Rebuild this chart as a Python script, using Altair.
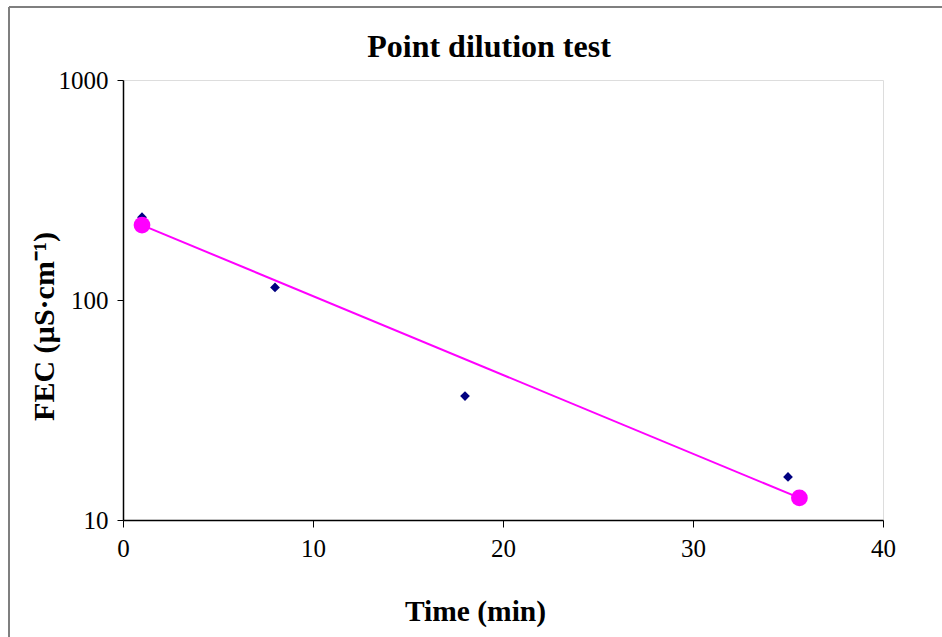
import altair as alt
import pandas as pd

# measured data (diamonds)
time_min = [1, 8, 18, 35]
fec = [238, 114, 36.6, 15.7]

# fit line end points (magenta circles)
fit_time = [1, 35.6]
fit_fec = [219, 12.6]

x_ticks = [0, 10, 20, 30, 40]
y_ticks = [10, 100, 1000]

TITLE = "Point dilution test"
FONT = "Liberation Serif"

meas = pd.DataFrame({"t": time_min, "fec": fec})
fit = pd.DataFrame({"t": fit_time, "fec": fit_fec})

xs = alt.Scale(domain=[0, 40], nice=False, zero=False)
ys = alt.Scale(type="log", domain=[10, 1000], nice=False)

x_axis = alt.Axis(values=x_ticks, format="d", title="Time (min)", grid=False,
                  domainColor="black", domainWidth=1.5, tickColor="black", tickSize=7,
                  labelFont=FONT, labelFontSize=25, labelColor="black", labelPadding=9,
                  labelFlush=False,
                  titleFont=FONT, titleFontSize=29.5, titleFontWeight="bold",
                  titleColor="black", titleX=352, titleY=100, titleBaseline="alphabetic",
                  titleAnchor="start", titleAlign="center")
y_axis = alt.Axis(values=y_ticks, format="d", title="FEC (µS·cm⁻¹)", grid=False,
                  domainColor="black", domainWidth=1.5, tickColor="black", tickSize=6,
                  labelFont=FONT, labelFontSize=25, labelColor="black", labelPadding=9,
                  labelFlush=False,
                  titleFont=FONT, titleFontSize=30, titleFontWeight="bold",
                  titleColor="black", titleX=-70, titleY=246, titleAngle=-90,
                  titleBaseline="alphabetic", titleAlign="center", titleAnchor="start")

points = alt.Chart(meas).mark_point(shape="diamond", filled=True, color="#000080",
                                    size=95, opacity=1).encode(
    x=alt.X("t:Q", scale=xs, axis=x_axis),
    y=alt.Y("fec:Q", scale=ys, axis=y_axis),
)

line = alt.Chart(fit).mark_line(color="#FF00FF", strokeWidth=2).encode(
    x=alt.X("t:Q", scale=xs),
    y=alt.Y("fec:Q", scale=ys),
)

circles = alt.Chart(fit).mark_circle(color="#FF00FF", size=280, opacity=1).encode(
    x=alt.X("t:Q", scale=xs),
    y=alt.Y("fec:Q", scale=ys),
)

frame_v = alt.Chart(fit).mark_rule(color="#7f7f7f", strokeWidth=2, clip=False).encode(
    x=alt.value(-114), y=alt.value(-73), y2=alt.value(600))
frame_h = alt.Chart(fit).mark_rule(color="#7f7f7f", strokeWidth=2, clip=False).encode(
    x=alt.value(-114), x2=alt.value(830), y=alt.value(-73))

title = alt.Chart(pd.DataFrame({"title": [TITLE]})).mark_text(
    font=FONT, fontSize=32, fontWeight="bold", color="black", align="center",
    baseline="alphabetic", clip=False).encode(
    text="title:N", x=alt.value(366), y=alt.value(-23))

chart = alt.layer(frame_v, frame_h, line, points, circles, title).properties(
    width=760, height=440,
    autosize=alt.AutoSizeParams(type="none"),
    padding={"left": 123, "top": 80, "right": 59, "bottom": 117},
).configure_view(stroke="#808080", strokeWidth=2.5).configure(background="white")

chart.save("out.html", embed_options={"renderer": "svg", "actions": False})
